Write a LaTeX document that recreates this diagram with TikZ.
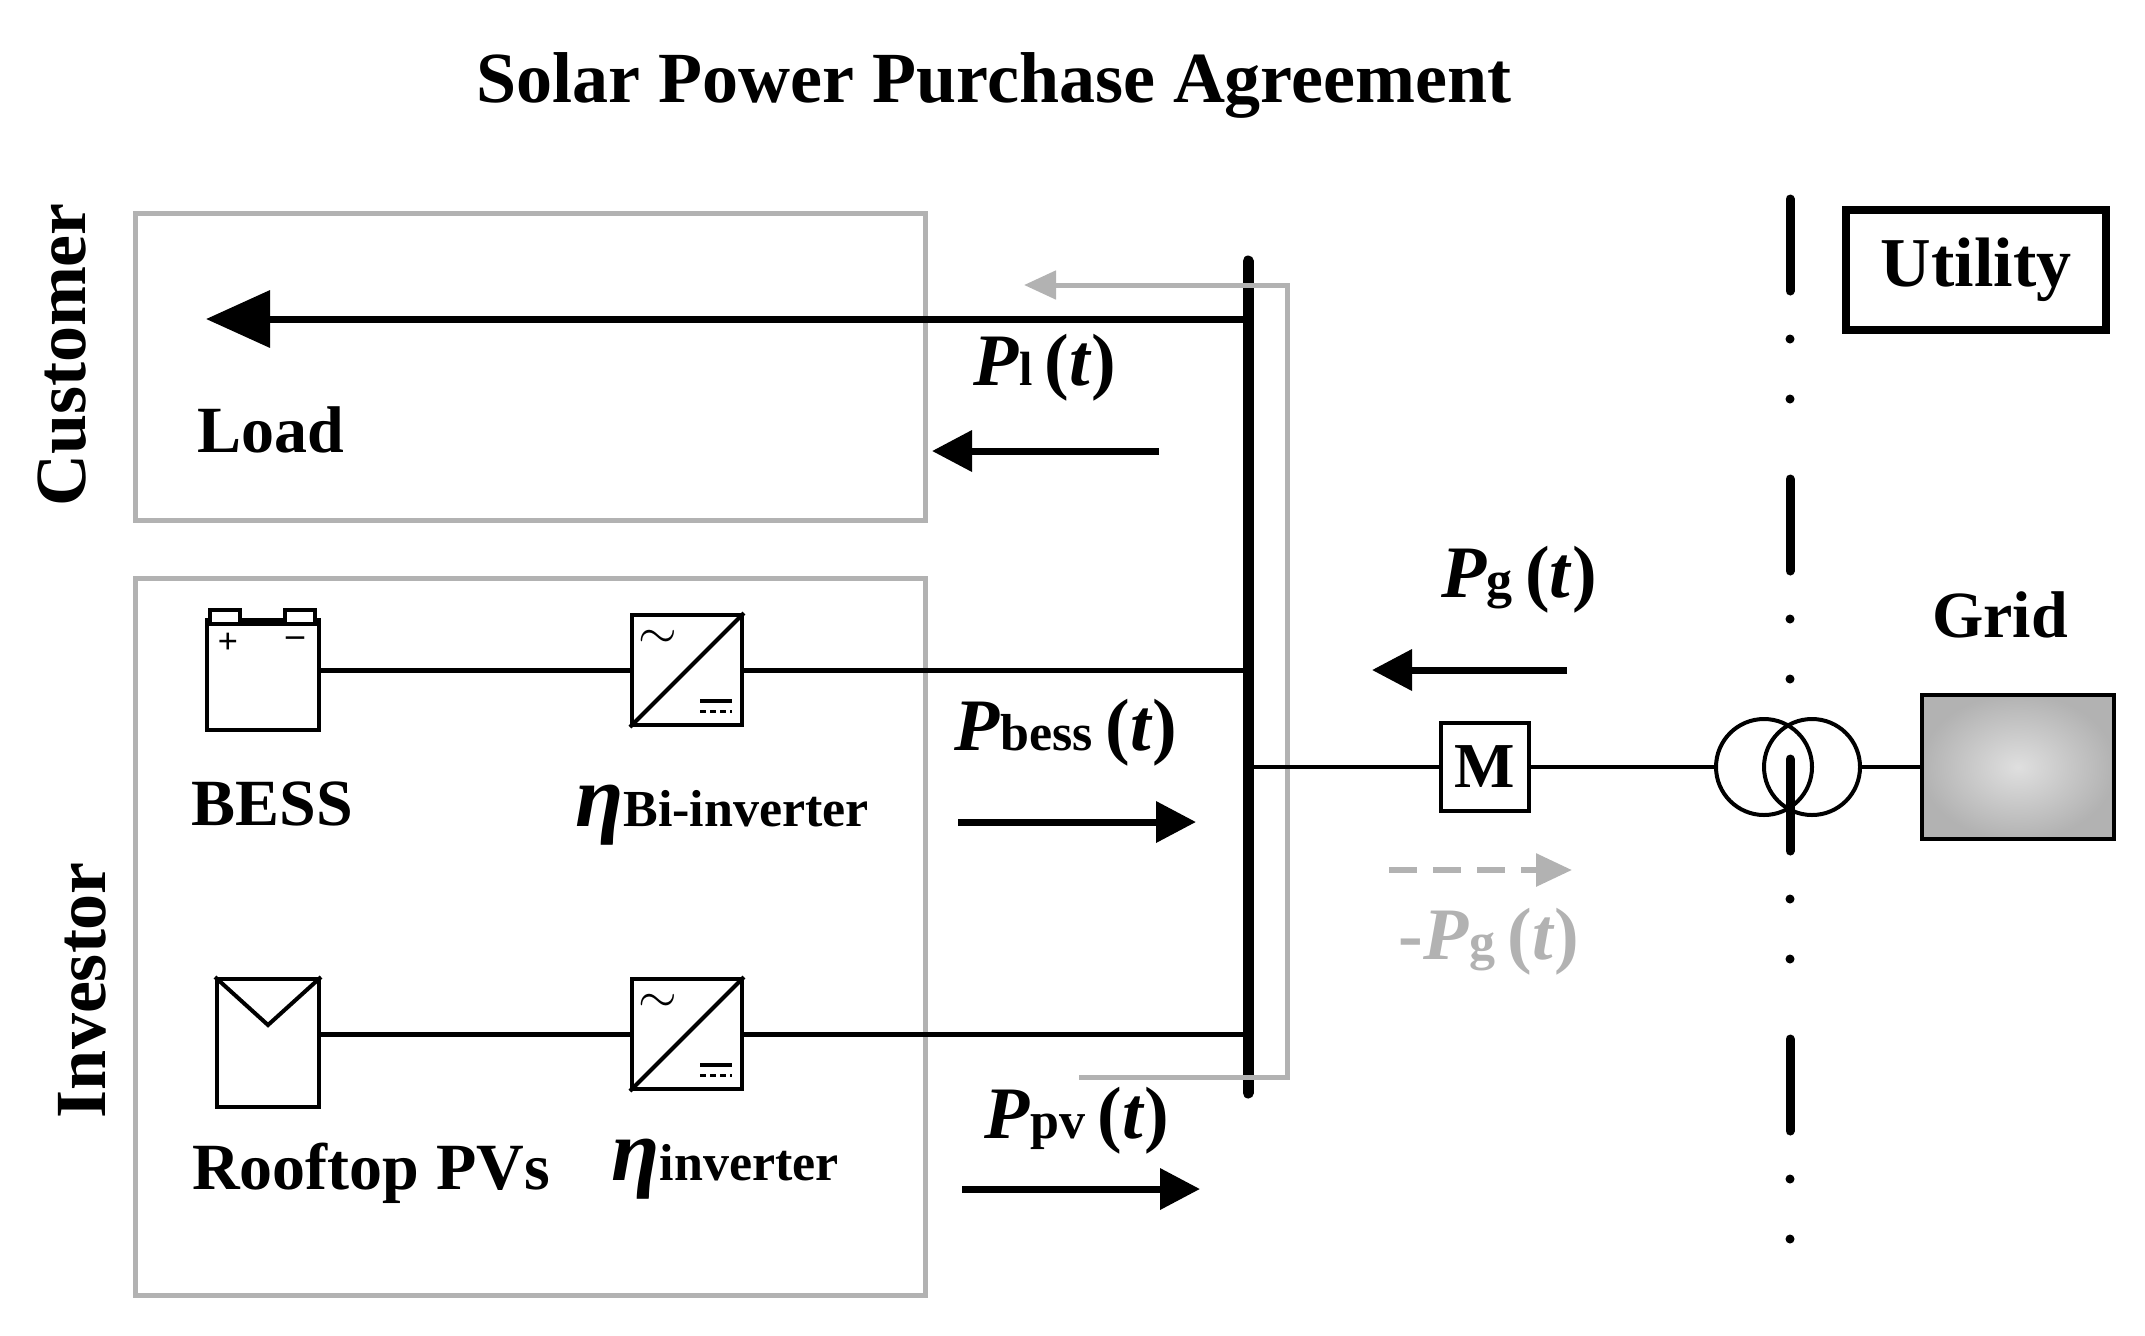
\documentclass[tikz,border=0pt]{standalone}
\usepackage{fontspec}
\setmainfont{Liberation Serif}
\usetikzlibrary{arrows.meta}
\newcommand{\fs}[1]{\fontsize{#1}{#1}\selectfont}
\begin{document}
\begin{tikzpicture}[x=0.5pt,y=-0.5pt,
  gbox/.style={draw=gray!60,line width=2.5pt},
  blk/.style={draw,line width=2pt,fill=white,inner sep=0pt},
  wire/.style={line width=2.5pt},
  flow/.style={line width=3.5pt,-{Triangle[length=20pt,width=20pt]}},
  lbl/.style={font=\fs{33}\bfseries},
  plbl/.style={font=\fs{37}\bfseries}]
\useasboundingbox (0,0) rectangle (2145,1335);
\node[font=\fs{36}\bfseries] (title) at (994,85) {Solar Power Purchase Agreement};
% boxes
\node[gbox,minimum width=395pt,minimum height=153.5pt] (cust) at (530,366.5) {};
\node[gbox,minimum width=395pt,minimum height=358.5pt] (inv) at (530,936.5) {};
\node[rotate=90,font=\fs{36}\bfseries] (ctext) at (62,355) {Customer};
\node[rotate=90,font=\fs{36}\bfseries] (itext) at (82,990) {Investor};
% bus
\coordinate (bt) at (1248,261); \coordinate (bb) at (1248,1093);
\draw[line width=5.5pt,line cap=round] (bt) -- (bb);
% gray loop
\coordinate (g1) at (1287,285); \coordinate (g2) at (1287,1077);
\coordinate (g0) at (1024,285); \coordinate (g3) at (1079,1077);
\draw[gray!60,line width=2.5pt,{Triangle[length=16pt,width=14pt]}-] (g0) -- (g1) -- (g2) -- (g3);
% load
\coordinate (lt) at (206,319); \coordinate (lb) at (1248,319);
\draw[line width=3.5pt,-{Triangle[length=32pt,width=28pt]}] (lb) -- (lt);
\node[lbl] (load) at (271,430) {Load};
\node[plbl] (pl) at (1045,368) {\textit{P}{\fs{24}l}\,(\textit{t})};
\coordinate (pla) at (1159,451); \coordinate (plb) at (932,451);
\draw[flow] (pla) -- (plb);
% BESS
\node[blk,minimum width=56pt,minimum height=55pt] (bat) at (262.5,675) {};
\draw[fill=white,line width=1.8pt] (210,610) rectangle (240,624);
\draw[fill=white,line width=1.8pt] (285,610) rectangle (315,624);
\draw[line width=2pt] (206,624) -- (319,624);
\node[font=\fs{18}\bfseries] (bp) at (228,643) {+};
\node[font=\fs{18}\bfseries] (bm) at (295,642) {--};
\node[blk,minimum width=55pt,minimum height=55pt] (inv1) at (687,670) {};
\node[blk,minimum width=55pt,minimum height=55pt] (inv2) at (687,1034) {};
\foreach \n in {inv1,inv2}{
  \draw[line width=2pt] (\n.south west) -- (\n.north east);
  \node[font=\fs{34}] at ([xshift=14pt,yshift=-13pt]\n.north west) {$\sim$};
  \draw[line width=2pt] ([xshift=-22pt,yshift=13pt]\n.south east) -- ([xshift=-6pt,yshift=13pt]\n.south east);
  \draw[line width=1.5pt,dash pattern=on 3pt off 2pt] ([xshift=-22pt,yshift=8pt]\n.south east) -- ([xshift=-6pt,yshift=8pt]\n.south east);
}
\draw[wire] (bat.east |- inv1.west) -- (inv1.west);
\coordinate (b1) at (1248,670);
\draw[wire] (inv1.east) -- (b1);
\node[lbl] (bess) at (272,804) {BESS};
\node[font=\fs{26}\bfseries] (eta1) at (722,815) {{\fs{44}\textit{η}}Bi-inverter};
\node[plbl] (pb) at (1066,733) {\textit{P}{\fs{26}bess}\,(\textit{t})};
\coordinate (pba) at (958,822); \coordinate (pbb) at (1196,822);
\draw[flow] (pba) -- (pbb);
% PV
\node[blk,minimum width=51pt,minimum height=64pt] (pv) at (268,1043) {};
\draw[line width=2pt] (pv.north west) -- ([yshift=-24pt]pv.north) -- (pv.north east);
\draw[wire] (pv.east |- inv2.west) -- (inv2.west);
\coordinate (b2) at (1248,1034);
\draw[wire] (inv2.east) -- (b2);
\node[lbl] (roof) at (371,1173) {Rooftop PVs};
\node[font=\fs{26}\bfseries] (eta2) at (725,1169) {{\fs{44}\textit{η}}inverter};
\node[plbl] (pp) at (1077,1121) {\textit{P}{\fs{26}pv}\,(\textit{t})};
\coordinate (ppa) at (962,1189); \coordinate (ppb) at (1200,1189);
\draw[flow] (ppa) -- (ppb);
% grid side
\coordinate (b3) at (1248,767);
\node[blk,minimum width=44pt,minimum height=44pt,font=\fs{32}\bfseries] (M) at (1485,767) {M};
\node[draw,circle,line width=2pt,minimum size=48pt,inner sep=0pt] (t1) at (1764,767) {};
\node[draw,circle,line width=2pt,minimum size=48pt,inner sep=0pt] (t2) at (1812,767) {};
\node[draw,line width=2pt,minimum width=96pt,minimum height=72pt,inner color=gray!25,outer color=gray!60] (grid) at (2018,767) {};
\node[lbl] (gridl) at (2000,615) {Grid};
\draw[line width=1.8pt] (b3) -- (M.west);
\draw[line width=1.8pt] (M.east) -- (t1.west);
\draw[line width=1.8pt] (t2.east) -- (grid.west);
\node[draw,line width=4pt,minimum width=130pt,minimum height=60pt,font=\fs{35}\bfseries] (util) at (1976,270) {Utility};
\coordinate (d1) at (1790,199); \coordinate (d2) at (1790,1272);
\draw[line width=4.5pt,line cap=round,dash pattern=on 46pt off 24pt on 0pt off 30pt on 0pt off 40pt] (d1) -- (d2);
\node[plbl] (pg) at (1519,580) {\textit{P}{\fs{26}g}\,(\textit{t})};
\coordinate (pga) at (1567,670); \coordinate (pgb) at (1372,670);
\draw[flow] (pga) -- (pgb);
\coordinate (nga) at (1389,870); \coordinate (ngb) at (1572,870);
\draw[gray!60,line width=3pt,dash pattern=on 14pt off 8pt,-{Triangle[length=18pt,width=16pt]}] (nga) -- (ngb);
\node[plbl,text=gray!60] (npg) at (1489,942) {-\textit{P}{\fs{26}g}\,(\textit{t})};
\end{tikzpicture}
\end{document}
